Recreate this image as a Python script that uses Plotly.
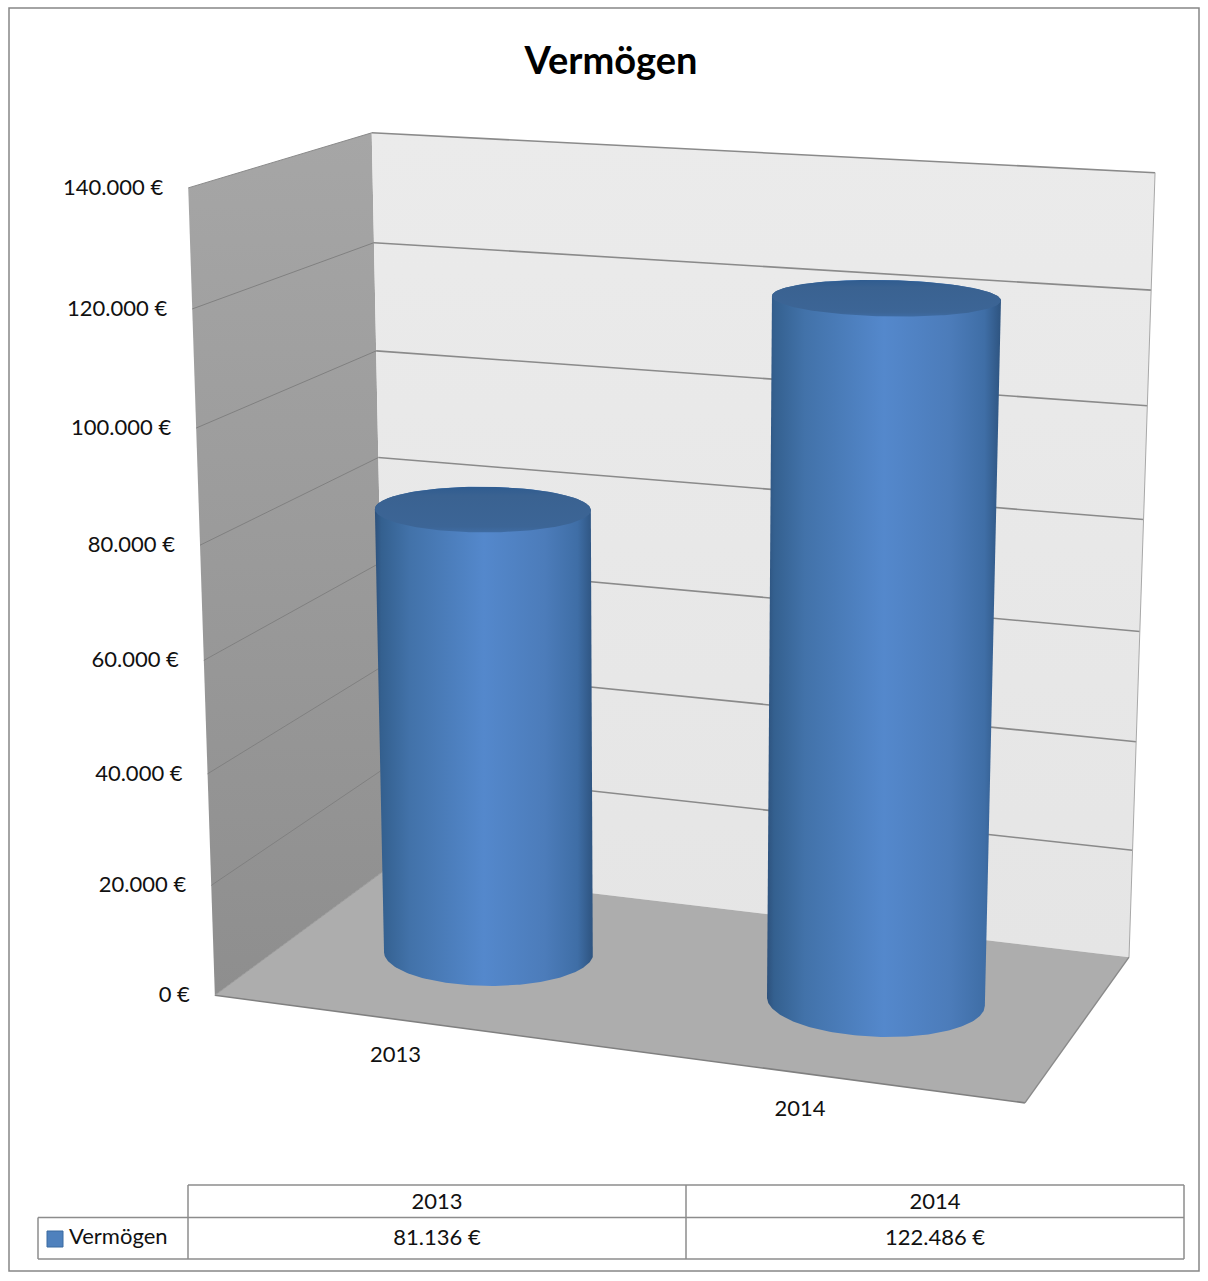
import numpy as np
import plotly.graph_objects as go

# Data
categories = ["2013", "2014"]
series_name = "Vermögen"
series_values = [81136, 122486]
tick_values = [0, 20000, 40000, 60000, 80000, 100000, 120000, 140000]
VALUE_MAX = 140000

W, H = 1208, 1281
FONT = "Lato"
TEXT = "#111111"


def euro(v):
    return f"{v:,.0f} €".replace(",", ".")


# Camera for the 3D box: solve a 3x4 projection from where the box corners land.
# Box units: x 0..2 (one per category), h 0..1 (value / max), z 0 front .. 1 back.
calib = [
    ((0, 0, 0), (215, 995)), ((0, 1, 0), (188, 188)), ((2, 0, 0), (1025, 1103)),
    ((0, 0, 1), (386.5, 869)), ((0, 1, 1), (372, 132.7)), ((2, 0, 1), (1129, 957)),
    ((2, 1, 1), (1155, 172.7)),
]
rows = []
for (a, b, c), (u, v) in calib:
    rows.append([a, b, c, 1, 0, 0, 0, 0, -u * a, -u * b, -u * c, -u])
    rows.append([0, 0, 0, 0, a, b, c, 1, -v * a, -v * b, -v * c, -v])
CAM = np.linalg.svd(np.array(rows, float))[2][-1].reshape(3, 4)


def project(x, value, z):
    x, z = np.asarray(x, float), np.asarray(z, float)
    x, z = np.broadcast_arrays(x, z)
    h = np.full(x.shape, value / VALUE_MAX)
    p = CAM @ np.vstack([x.ravel(), h.ravel(), z.ravel(), np.ones(x.size)])
    return p[0] / p[2], p[1] / p[2]


def face(points, **kw):
    xs, ys = zip(*[project(a, b, c) for a, b, c in points])
    xs = [float(np.ravel(v)[0]) for v in xs]
    ys = [float(np.ravel(v)[0]) for v in ys]
    return go.Scatter(x=xs + xs[:1], y=ys + ys[:1], mode="lines", fill="toself",
                      hoverinfo="skip", **kw)


def edge(p0, p1, color, width):
    a = project(p0[0], p0[1], p0[2])
    b = project(p1[0], p1[1], p1[2])
    return go.Scatter(x=[float(a[0][0]), float(b[0][0])], y=[float(a[1][0]), float(b[1][0])],
                      mode="lines", line=dict(color=color, width=width), hoverinfo="skip")


fig = go.Figure()

# Walls and floor
no_line = dict(width=0, color="rgba(0,0,0,0)")
fig.add_trace(face([(0, 0, 0), (0, VALUE_MAX, 0), (0, VALUE_MAX, 1), (0, 0, 1)], line=no_line,
                   fillgradient=dict(type="vertical", colorscale=[[0, "#8e8e8e"], [1, "#a6a6a6"]])))
fig.add_trace(face([(0, 0, 1), (0, VALUE_MAX, 1), (2, VALUE_MAX, 1), (2, 0, 1)], line=no_line,
                   fillgradient=dict(type="vertical", colorscale=[[0, "#e5e5e5"], [1, "#ebebeb"]])))
fig.add_trace(face([(0, 0, 0), (2, 0, 0), (2, 0, 1), (0, 0, 1)], line=no_line, fillcolor="#adadad"))

# Gridlines across both walls
for v in tick_values[1:-1]:
    fig.add_trace(edge((0, v, 0), (0, v, 1), "#808080", 1))
    fig.add_trace(edge((0, v, 1), (2, v, 1), "#8a8a8a", 1.6))

# Box outlines
fig.add_trace(edge((0, VALUE_MAX, 1), (2, VALUE_MAX, 1), "#8a8a8a", 1.6))
fig.add_trace(edge((0, VALUE_MAX, 0), (0, VALUE_MAX, 1), "#8a8a8a", 1))
fig.add_trace(edge((2, 0, 1), (2, VALUE_MAX, 1), "#a8a8a8", 1))
fig.add_trace(edge((0, 0, 0), (2, 0, 0), "#808080", 1.6))
fig.add_trace(edge((2, 0, 0), (2, 0, 1), "#8a8a8a", 1.4))
fig.add_trace(edge((0, 0, 0), (0, 0, 1), "#999999", 1))

# Cylinders
RX, RZ = 0.262, 0.235
BODY_SHADES = [[0, "#2d517c"], [0.03, "#34608f"], [0.16, "#4272a9"], [0.5, "#5488cc"],
               [0.78, "#4c7cba"], [0.93, "#3f6ea6"], [1, "#2e5480"]]
CAP_SHADES = [[0, "#3f6ca3"], [0.12, "#3c6596"], [0.8, "#3a6291"], [1, "#2f5c90"]]
t = np.linspace(0, 2 * np.pi, 241)
for i, value in enumerate(series_values):
    cx = i + 0.5
    ex, ez = cx + RX * np.cos(t), 0.5 + RZ * np.sin(t)
    bx, by = project(ex, 0, ez)
    tx, ty = project(ex, value, ez)

    def arc(xs, ys, lower):
        # half of the ellipse between its left and right extremes, left to right
        il, ir = int(np.argmin(xs[:-1])), int(np.argmax(xs[:-1]))
        n = len(xs) - 1
        path = []
        k = il
        while k != ir:
            path.append(k)
            k = (k + 1) % n if lower else (k - 1) % n
        path.append(ir)
        return xs[path], ys[path]

    lx, ly = arc(bx, by, True)
    if ly[len(ly) // 2] < 0.5 * (ly[0] + ly[-1]):
        lx, ly = arc(bx, by, False)
    ux, uy = arc(tx, ty, True)
    if uy[len(uy) // 2] > 0.5 * (uy[0] + uy[-1]):
        ux, uy = arc(tx, ty, False)
    body_x = np.concatenate([ux, lx[::-1]])
    body_y = np.concatenate([uy, ly[::-1]])
    fig.add_trace(go.Scatter(x=body_x, y=body_y, mode="lines", fill="toself", line=no_line,
                             fillgradient=dict(type="horizontal", colorscale=BODY_SHADES),
                             hoverinfo="skip"))
    fig.add_trace(go.Scatter(x=tx, y=ty, mode="lines", fill="toself", line=no_line,
                             fillgradient=dict(type="vertical", colorscale=CAP_SHADES),
                             hoverinfo="skip"))

# Value axis labels beside the front edge of the left wall
ax, ay = [], []
for v in tick_values:
    px, py = project([0.0], v, [0.0])
    ax.append(float(px[0]) - 25)
    ay.append(float(py[0]) + 1.5)
fig.add_trace(go.Scatter(x=ax, y=ay, mode="text", text=[euro(v) for v in tick_values],
                         textposition="middle left",
                         textfont=dict(family=FONT, size=22, color=TEXT), hoverinfo="skip"))

# Category labels below the front edge of the floor
cat_x, cat_y = [], []
for i in range(len(categories)):
    px, py = project([i + 0.5], 0, [0.0])
    cat_x.append(float(px[0]) - 11)
    cat_y.append(float(py[0]) + 36)
fig.add_trace(go.Scatter(x=cat_x, y=cat_y, mode="text", text=categories, textposition="middle center",
                         textfont=dict(family=FONT, size=22, color=TEXT), hoverinfo="skip"))

# Data table under the plot
TBL_LEFT, TBL_X0, TBL_X1, TBL_X2 = 38, 188, 686, 1184
TBL_Y0, TBL_Y1, TBL_Y2 = 1185, 1217.5, 1259
tbl_color = "#8c8c8c"
segments = [
    (TBL_X0, TBL_Y0, TBL_X2, TBL_Y0), (TBL_LEFT, TBL_Y1, TBL_X2, TBL_Y1),
    (TBL_LEFT, TBL_Y2, TBL_X2, TBL_Y2), (TBL_LEFT, TBL_Y1, TBL_LEFT, TBL_Y2),
    (TBL_X0, TBL_Y0, TBL_X0, TBL_Y2), (TBL_X1, TBL_Y0, TBL_X1, TBL_Y2),
    (TBL_X2, TBL_Y0, TBL_X2, TBL_Y2),
]
shapes = [dict(type="line", xref="x", yref="y", x0=a, y0=b, x1=c, y1=d,
               line=dict(color=tbl_color, width=1.5)) for a, b, c, d in segments]
# Legend key
shapes.append(dict(type="rect", xref="x", yref="y", x0=47, y0=1231, x1=63, y1=1247,
                   fillcolor="#4f81bd", line=dict(color="#3a6aa0", width=1)))
# Chart frame
shapes.append(dict(type="rect", xref="x", yref="y", x0=9, y0=8, x1=1199, y1=1271,
                   line=dict(color="#868686", width=1.5), layer="below"))

col_centers = [0.5 * (TBL_X0 + TBL_X1), 0.5 * (TBL_X1 + TBL_X2)]
fig.add_trace(go.Scatter(x=col_centers, y=[1203, 1203], mode="text", text=categories,
                         textposition="middle center",
                         textfont=dict(family=FONT, size=22, color=TEXT), hoverinfo="skip"))
fig.add_trace(go.Scatter(x=col_centers, y=[1239, 1239], mode="text",
                         text=[euro(v) for v in series_values], textposition="middle center",
                         textfont=dict(family=FONT, size=22, color=TEXT), hoverinfo="skip"))
fig.add_trace(go.Scatter(x=[69], y=[1238], mode="text", text=[series_name], textposition="middle right",
                         textfont=dict(family=FONT, size=22, color=TEXT), hoverinfo="skip"))

fig.update_layout(
    width=W, height=H, margin=dict(l=0, r=0, t=0, b=0),
    paper_bgcolor="white", plot_bgcolor="white", showlegend=False,
    xaxis=dict(range=[0, W], visible=False, fixedrange=True),
    yaxis=dict(range=[H, 0], visible=False, fixedrange=True),
    shapes=shapes,
    title=dict(text=f"<b>{series_name}</b>", x=611 / W, xanchor="center", y=1 - 61 / H, yanchor="middle",
               font=dict(family=FONT, size=38, color="#000000")),
)
fig.write_html("out.html", config={"displayModeBar": False})
